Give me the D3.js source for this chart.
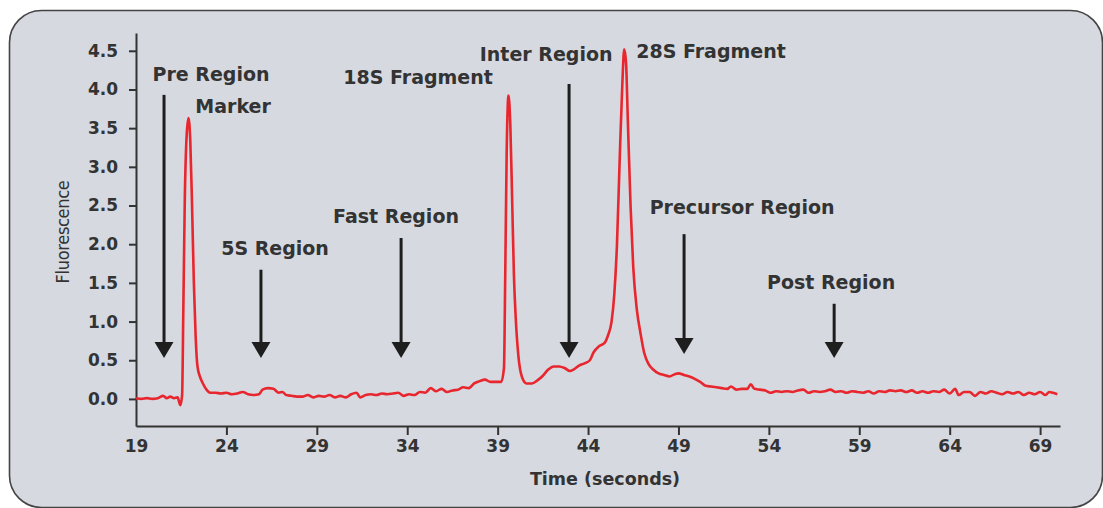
<!DOCTYPE html>
<html>
<head>
<meta charset="utf-8">
<script src="https://cdn.jsdelivr.net/npm/d3@7"></script>
<style>
  body { margin: 0; background: #ffffff; }
  .chart text { font-family: "DejaVu Sans", sans-serif; fill: #333333; }
</style>
</head>
<body>
<div class="chart"></div>
<script>
// Electropherogram trace: time (s) and fluorescence
const times = [
  19.0, 19.3, 19.6, 19.9, 20.2, 20.5, 20.7, 20.9, 21.1, 21.3, 21.45, 21.55,
  21.62, 21.7, 21.8, 21.9, 22.0, 22.1, 22.2, 22.3, 22.4, 22.55, 22.7, 22.9,
  23.1, 23.4, 23.7, 24.0, 24.3, 24.6, 24.9, 25.2, 25.5, 25.8, 26.0, 26.3,
  26.6, 26.9, 27.1, 27.3, 27.6, 27.9, 28.2, 28.5, 28.8, 29.1, 29.4, 29.7,
  30.0, 30.3, 30.6, 30.9, 31.2, 31.4, 31.7, 32.0, 32.3, 32.6, 32.9, 33.2,
  33.5, 33.8, 34.1, 34.4, 34.7, 35.0, 35.3, 35.6, 35.9, 36.2, 36.5, 36.8,
  37.1, 37.4, 37.7, 38.0, 38.3, 38.6, 38.9, 39.2, 39.35, 39.42, 39.5, 39.6,
  39.7, 39.8, 39.9, 40.0, 40.15, 40.35, 40.6, 40.9, 41.2, 41.5, 41.8, 42.1,
  42.4, 42.7, 43.0, 43.2, 43.5, 43.8, 44.1, 44.3, 44.6, 44.9, 45.1, 45.3,
  45.45, 45.6, 45.75, 45.9, 46.0, 46.1, 46.2, 46.35, 46.5, 46.7, 46.9, 47.1,
  47.35, 47.6, 47.9, 48.2, 48.5, 48.8, 49.0, 49.3, 49.6, 49.9, 50.2, 50.5,
  50.8, 51.1, 51.4, 51.7, 51.9, 52.2, 52.5, 52.8, 53.0, 53.2, 53.5, 53.8,
  54.1, 54.4, 54.7, 55.0, 55.3, 55.6, 55.9, 56.2, 56.5, 56.8, 57.1, 57.4,
  57.7, 58.0, 58.3, 58.6, 58.9, 59.2, 59.5, 59.8, 60.1, 60.4, 60.7, 61.0,
  61.3, 61.6, 61.9, 62.2, 62.5, 62.8, 63.1, 63.4, 63.7, 64.0, 64.3, 64.5,
  64.8, 65.1, 65.4, 65.7, 66.0, 66.3, 66.6, 66.9, 67.2, 67.5, 67.8, 68.1,
  68.4, 68.7, 69.0, 69.3, 69.5, 69.7, 69.95
];
const fluorescence = [
  0.01, 0.00, 0.01, 0.00, 0.01, 0.04, 0.01, 0.03, 0.01, 0.02, -0.08, 0.05,
  1.20, 2.60, 3.40, 3.63, 3.35, 2.50, 1.50, 0.80, 0.42, 0.28, 0.20, 0.12,
  0.08, 0.08, 0.07, 0.08, 0.06, 0.07, 0.09, 0.06, 0.05, 0.06, 0.12, 0.14,
  0.13, 0.08, 0.09, 0.05, 0.04, 0.03, 0.03, 0.05, 0.02, 0.04, 0.03, 0.05,
  0.02, 0.04, 0.02, 0.06, 0.08, 0.02, 0.05, 0.06, 0.05, 0.07, 0.06, 0.07,
  0.08, 0.04, 0.06, 0.05, 0.09, 0.08, 0.14, 0.10, 0.13, 0.09, 0.11, 0.12,
  0.15, 0.14, 0.20, 0.23, 0.25, 0.22, 0.22, 0.22, 0.40, 1.60, 3.20, 3.92,
  3.55, 2.60, 1.60, 1.05, 0.55, 0.28, 0.20, 0.20, 0.24, 0.30, 0.38, 0.42,
  0.42, 0.40, 0.36, 0.38, 0.43, 0.46, 0.50, 0.60, 0.68, 0.72, 0.82, 1.00,
  1.35, 2.00, 3.10, 4.10, 4.52, 4.35, 3.60, 2.50, 1.70, 1.15, 0.85, 0.60,
  0.45, 0.38, 0.33, 0.31, 0.29, 0.32, 0.33, 0.31, 0.29, 0.26, 0.22, 0.17,
  0.16, 0.15, 0.14, 0.13, 0.16, 0.12, 0.13, 0.13, 0.19, 0.13, 0.12, 0.11,
  0.08, 0.10, 0.09, 0.10, 0.09, 0.11, 0.12, 0.08, 0.10, 0.09, 0.10, 0.12,
  0.09, 0.10, 0.08, 0.10, 0.09, 0.08, 0.10, 0.07, 0.10, 0.09, 0.11, 0.10,
  0.11, 0.09, 0.11, 0.08, 0.10, 0.08, 0.10, 0.09, 0.12, 0.07, 0.13, 0.05,
  0.09, 0.09, 0.04, 0.09, 0.07, 0.10, 0.08, 0.06, 0.09, 0.07, 0.09, 0.05,
  0.08, 0.06, 0.09, 0.05, 0.09, 0.08, 0.06
];

// Axis ticks
const xTicks = [19, 24, 29, 34, 39, 44, 49, 54, 59, 64, 69];
const yTicks = [0.0, 0.5, 1.0, 1.5, 2.0, 2.5, 3.0, 3.5, 4.0, 4.5];

// Annotation labels: text anchored at (time, value)
const labelText = ["Pre Region", "Marker", "5S Region", "Fast Region", "18S Fragment",
                   "Inter Region", "28S Fragment", "Precursor Region", "Post Region"];
const labelTime = [23.15, 24.37, 26.69, 33.38, 34.6, 41.68, 50.8, 52.52, 57.44];
const labelValue = [4.11, 3.70, 1.86, 2.28, 4.07, 4.37, 4.41, 2.39, 1.42];

// Region arrows: time, value at the top of the shaft, value at the tip
const arrowTime = [20.55, 25.91, 33.66, 42.95, 49.31, 57.61];
const arrowTop = [3.93, 1.67, 2.08, 4.07, 2.13, 1.23];
const arrowTip = [0.53, 0.53, 0.53, 0.53, 0.58, 0.53];

const W = 1103, H = 508;
const plot = {left: 136, right: 1060, top: 33, bottom: 426};

const svg = d3.select(".chart")
    .append("svg")
    .attr("width", W)
    .attr("height", H);

// grey rounded panel behind everything
svg.append("rect")
    .attr("x", 9.5)
    .attr("y", 10.5)
    .attr("width", 1093)
    .attr("height", 497)
    .attr("rx", 32)
    .attr("fill", "#d6d9e0")
    .attr("stroke", "#444")
    .attr("stroke-width", 1.6);

const x = d3.scaleLinear()
    .domain([19, 70.1])
    .range([plot.left, plot.right]);

const y = d3.scaleLinear()
    .domain([-0.35, 4.73])
    .range([plot.bottom, plot.top]);

// Axes
const xAxis = svg.append("g")
    .attr("transform", `translate(0, ${plot.bottom})`)
    .call(d3.axisBottom(x).tickValues(xTicks).tickFormat(d3.format("d"))
        .tickSize(9).tickPadding(5).tickSizeOuter(0));

const yAxis = svg.append("g")
    .attr("transform", `translate(${plot.left}, 0)`)
    .call(d3.axisLeft(y).tickValues(yTicks).tickFormat(d3.format(".1f"))
        .tickSize(7).tickPadding(11).tickSizeOuter(0));

[xAxis, yAxis].forEach(a => {
    a.select(".domain").attr("stroke", "#333").attr("stroke-width", 2);
    a.selectAll(".tick line").attr("stroke", "#333").attr("stroke-width", 2);
    a.selectAll(".tick text")
        .attr("fill", "#333")
        .style("font-family", "'DejaVu Sans', sans-serif")
        .style("font-weight", "bold")
        .style("font-size", "17px");
});
// no tick mark under the corner at 19
xAxis.selectAll(".tick line").filter(d => d === 19).remove();

// Axis titles
svg.append("text")
    .attr("x", 605)
    .attr("y", 485)
    .attr("text-anchor", "middle")
    .style("font-weight", "bold")
    .style("font-size", "17.5px")
    .text("Time (seconds)");

svg.append("text")
    .attr("transform", "translate(69, 232) rotate(-90)")
    .attr("text-anchor", "middle")
    .style("font-family", "'DejaVu Sans Condensed', 'DejaVu Sans', sans-serif")
    .style("font-size", "18px")
    .style("letter-spacing", "-0.3px")
    .text("Fluorescence");

// The trace
const trace = times.map((t, i) => ({t: t, v: fluorescence[i]}));

const line = d3.line()
    .x(d => x(d.t))
    .y(d => y(d.v))
    .curve(d3.curveMonotoneX);

svg.append("path")
    .datum(trace)
    .attr("d", line)
    .attr("fill", "none")
    .attr("stroke", "#e8262e")
    .attr("stroke-width", 2.6)
    .attr("stroke-linejoin", "round");

// Arrows
const arrows = arrowTime.map((t, i) => ({t: t, top: arrowTop[i], tip: arrowTip[i]}));
const headW = 19, headH = 16;

const ag = svg.selectAll(".arrow")
    .data(arrows)
    .enter()
    .append("g")
    .attr("class", "arrow");

ag.append("line")
    .attr("x1", d => x(d.t))
    .attr("x2", d => x(d.t))
    .attr("y1", d => y(d.top))
    .attr("y2", d => y(d.tip) - headH + 2)
    .attr("stroke", "#1e1e1e")
    .attr("stroke-width", 3);

ag.append("path")
    .attr("d", d => {
        const cx = x(d.t), ty = y(d.tip);
        return `M${cx - headW / 2},${ty - headH}L${cx + headW / 2},${ty - headH}L${cx},${ty}Z`;
    })
    .attr("fill", "#1e1e1e");

// Labels
svg.selectAll(".label")
    .data(labelText)
    .enter()
    .append("text")
    .attr("class", "label")
    .attr("x", (d, i) => x(labelTime[i]))
    .attr("y", (d, i) => y(labelValue[i]))
    .attr("text-anchor", "middle")
    .style("font-weight", "bold")
    .style("font-size", "19px")
    .text(d => d);
</script>
</body>
</html>
